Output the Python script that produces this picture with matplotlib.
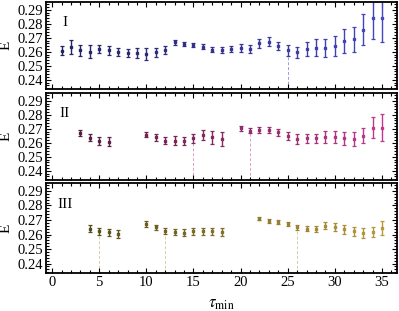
import numpy as np
import matplotlib
matplotlib.use("Agg")
import matplotlib.pyplot as plt
from matplotlib.ticker import MultipleLocator
from matplotlib.colors import to_rgb

plt.rcParams['font.family'] = ['Liberation Serif', 'DejaVu Serif']
plt.rcParams['mathtext.fontset'] = 'stix'

# panel I
x1 = list(range(1, 36))
y1 = [0.2608, 0.2635, 0.2612, 0.2600, 0.2620, 0.2610, 0.2598, 0.2591, 0.2591, 0.2584,
      0.2596, 0.2614, 0.2667, 0.2655, 0.2648, 0.2637, 0.2616, 0.2612, 0.2619, 0.2626,
      0.2619, 0.2660, 0.2672, 0.2642, 0.2610, 0.2596, 0.2621, 0.2630, 0.2628, 0.2642,
      0.2678, 0.2690, 0.2758, 0.2838, 0.2838]
e1 = [0.0032, 0.0050, 0.0040, 0.0045, 0.0025, 0.0030, 0.0030, 0.0030, 0.0035, 0.0040,
      0.0030, 0.0030, 0.0015, 0.0015, 0.0015, 0.0020, 0.0020, 0.0020, 0.0020, 0.0030,
      0.0030, 0.0030, 0.0030, 0.0030, 0.0040, 0.0040, 0.0050, 0.0060, 0.0065, 0.0070,
      0.0086, 0.0090, 0.0110, 0.0149, 0.0168]

# panel II
x2 = [3, 4, 5, 6, 10, 11, 12, 13, 14, 15, 16, 17, 18, 20, 21, 22, 23, 24, 25, 26,
      27, 28, 29, 30, 31, 32, 33, 34, 35]
y2 = [0.2669, 0.2636, 0.2612, 0.2609, 0.2659, 0.2638, 0.2616, 0.2616, 0.2612, 0.2633,
      0.2657, 0.2638, 0.2626, 0.2704, 0.2686, 0.2690, 0.2690, 0.2676, 0.2647, 0.2626,
      0.2633, 0.2633, 0.2643, 0.2643, 0.2631, 0.2629, 0.2652, 0.2709, 0.2709]
e2 = [0.0021, 0.0026, 0.0026, 0.0029, 0.0021, 0.0024, 0.0026, 0.0030, 0.0030, 0.0033,
      0.0035, 0.0044, 0.0051, 0.0018, 0.0019, 0.0021, 0.0021, 0.0024, 0.0030, 0.0034,
      0.0033, 0.0033, 0.0042, 0.0042, 0.0046, 0.0050, 0.0055, 0.0077, 0.0093]

# panel III
x3 = [4, 5, 6, 7, 10, 11, 12, 13, 14, 15, 16, 17, 18, 22, 23, 24, 25, 26, 27, 28,
      29, 30, 31, 32, 33, 34, 35]
y3 = [0.2640, 0.2624, 0.2617, 0.2604, 0.2672, 0.2650, 0.2624, 0.2617, 0.2612, 0.2622,
      0.2622, 0.2622, 0.2617, 0.2708, 0.2693, 0.2686, 0.2672, 0.2650, 0.2640, 0.2640,
      0.2660, 0.2650, 0.2635, 0.2621, 0.2612, 0.2617, 0.2645]
e3 = [0.0024, 0.0024, 0.0024, 0.0026, 0.0018, 0.0018, 0.0022, 0.0022, 0.0025, 0.0024,
      0.0024, 0.0024, 0.0026, 0.0010, 0.0012, 0.0013, 0.0015, 0.0018, 0.0018, 0.0020,
      0.0024, 0.0026, 0.0030, 0.0030, 0.0035, 0.0036, 0.0050]

labels = ['I', 'II', 'III']
marks = [[25], [15, 21], [5, 12, 26]]
cols = [('#23235e', '#4646c0'), ('#4e1c3a', '#c03a8c'), ('#4e4618', '#b89a3c')]
dash_cols = ['#9a9ae0', '#e0a0c8', '#d8cca0']

fig = plt.figure(figsize=(3.99, 3.11), dpi=100)
boxes = [(0.7138, 0.9936), (0.4212, 0.701), (0.1222, 0.4116)]
data = [(x1, y1, e1), (x2, y2, e2), (x3, y3, e3)]

for i in range(3):
    b0, b1 = boxes[i]
    ax = fig.add_axes([0.1153, b0, 0.995 - 0.1153, b1 - b0])
    xs, ys, es = data[i]
    c0, c1 = np.array(to_rgb(cols[i][0])), np.array(to_rgb(cols[i][1]))
    for xv, yv, ev in zip(xs, ys, es):
        t = (xv - 1) / 34.0
        c = c0 + (c1 - c0) * t
        ax.errorbar(xv, yv, yerr=ev, fmt='s', ms=2.1, color=c, ecolor=c,
                    elinewidth=1.0, capsize=1.5, capthick=0.9)
    for m in marks[i]:
        yv = ys[xs.index(m)]
        ax.plot([m, m], [0.2335, yv], ls=(0, (3, 2)), lw=0.7, color=dash_cols[i], zorder=0)
    ax.set_xlim(-0.65, 36.6)
    ax.set_ylim(0.2335, 0.2955)
    ax.yaxis.set_major_locator(MultipleLocator(0.01))
    ax.yaxis.set_minor_locator(MultipleLocator(0.002))
    ax.xaxis.set_major_locator(MultipleLocator(5))
    ax.xaxis.set_minor_locator(MultipleLocator(1))
    ax.tick_params(which='both', direction='in', top=True, right=True, labelsize=10.5,
                   pad=2, width=0.8)
    ax.tick_params(which='major', length=3.5)
    ax.tick_params(which='minor', length=2)
    ax.yaxis.set_major_formatter(plt.FuncFormatter(lambda v, p: '%.2f' % v))
    for s in ax.spines.values():
        s.set_linewidth(1.3)
    ax.set_ylabel('E', fontsize=11, labelpad=4)
    ax.text(1.35, 0.281, labels[i], fontsize=11, va='center', ha='center')
    if i < 2:
        ax.tick_params(labelbottom=False)
    else:
        ax.set_xlabel(r'$\tau_{\mathrm{min}}$', fontsize=12, labelpad=5)

fig.savefig('out.png', dpi=100)
